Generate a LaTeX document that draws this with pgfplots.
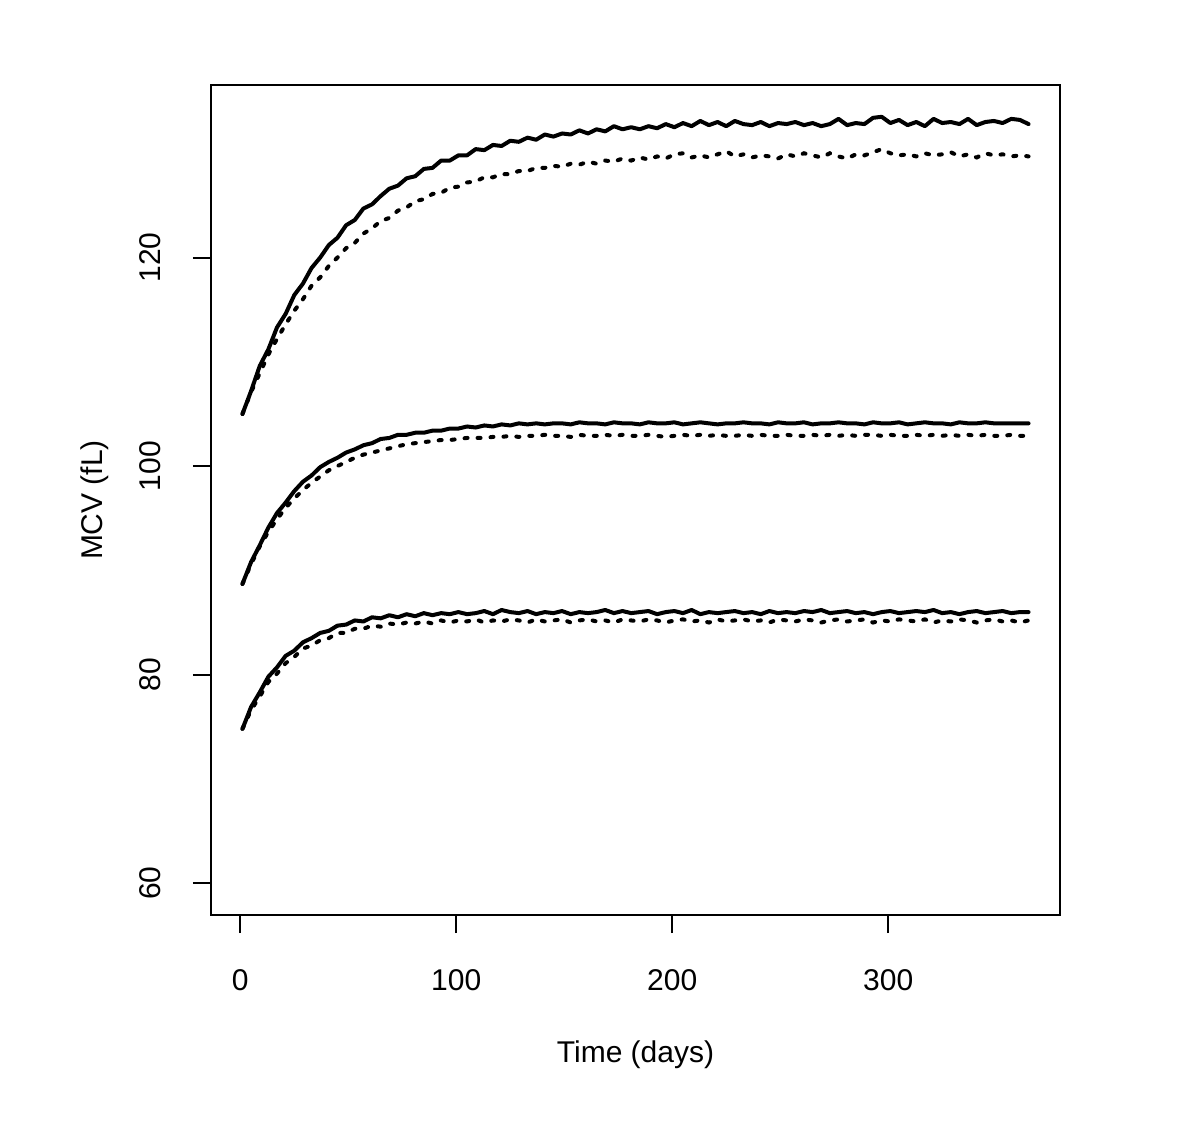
\documentclass[border=0pt]{standalone}
\usepackage{pgfplots}
\usepackage{pgfplotstable}
\pgfplotsset{compat=1.18}
\usepackage{fontspec}
\setmainfont{Liberation Sans}
\pgfplotstableread{
t ts td ms md bs bd
1 105.0 105.0 88.7 88.7 74.8 74.8
5 107.2 107.1 90.8 90.6 76.9 76.6
9 109.6 108.9 92.4 92.3 78.3 77.9
13 111.2 110.7 94.1 93.7 79.8 79.3
17 113.3 112.2 95.5 94.9 80.7 80.1
21 114.6 113.6 96.5 96.0 81.8 81.1
25 116.4 114.9 97.6 96.9 82.3 81.7
29 117.5 116.0 98.5 97.7 83.1 82.5
33 119.0 117.3 99.1 98.4 83.5 82.8
37 120.0 118.1 99.9 99.0 84.0 83.3
41 121.2 119.2 100.4 99.6 84.2 83.5
45 121.9 120.0 100.8 100.0 84.7 84.0
49 123.1 120.9 101.3 100.4 84.8 84.0
53 123.6 121.4 101.6 100.8 85.2 84.4
57 124.7 122.3 102.0 101.1 85.1 84.4
61 125.1 122.8 102.2 101.3 85.5 84.7
65 125.9 123.5 102.6 101.5 85.4 84.6
69 126.6 123.8 102.7 101.7 85.7 84.9
73 126.9 124.5 103.0 101.9 85.5 84.8
77 127.6 124.8 103.0 102.1 85.8 85.0
81 127.8 125.4 103.2 102.2 85.6 84.9
85 128.5 125.6 103.2 102.3 85.9 85.1
89 128.6 126.1 103.4 102.4 85.7 84.9
93 129.3 126.2 103.4 102.5 85.9 85.2
97 129.3 126.7 103.6 102.5 85.8 85.0
101 129.8 126.8 103.6 102.6 86.0 85.2
105 129.8 127.2 103.8 102.7 85.8 85.1
109 130.4 127.3 103.7 102.7 85.9 85.3
113 130.3 127.7 103.9 102.7 86.1 85.0
117 130.8 127.7 103.8 102.8 85.8 85.2
121 130.7 128.0 104.0 102.8 86.2 85.1
125 131.2 128.0 103.9 102.9 86.0 85.3
129 131.1 128.3 104.1 102.8 85.9 85.2
133 131.5 128.3 104.0 102.9 86.1 85.0
137 131.3 128.6 104.1 102.9 85.8 85.3
141 131.8 128.6 104.0 103.0 86.0 85.1
145 131.6 128.8 104.1 102.9 85.9 85.2
149 131.9 128.7 104.1 102.9 86.1 85.3
153 131.8 129.0 104.0 102.8 85.8 85.0
157 132.2 128.9 104.2 103.0 86.0 85.2
161 131.9 129.2 104.1 102.9 85.9 85.3
165 132.3 129.0 104.1 102.9 86.0 85.1
169 132.1 129.3 104.0 103.0 86.2 85.2
173 132.6 129.2 104.2 102.9 85.9 85.0
177 132.3 129.5 104.1 103.0 86.1 85.3
181 132.5 129.3 104.1 102.9 85.9 85.2
185 132.3 129.6 104.0 102.9 86.0 85.1
189 132.6 129.4 104.2 103.0 86.1 85.3
193 132.4 129.7 104.1 102.9 85.8 85.2
197 132.8 129.5 104.1 102.8 86.0 85.0
201 132.5 129.9 104.2 102.9 86.1 85.2
205 132.9 130.0 104.0 103.0 85.9 85.3
209 132.6 129.6 104.1 102.9 86.2 85.1
213 133.1 129.8 104.2 103.0 85.8 85.2
217 132.7 129.6 104.1 102.9 86.0 85.0
221 133.0 129.9 104.0 103.0 85.9 85.3
225 132.6 130.2 104.1 102.9 86.0 85.1
229 133.1 129.7 104.1 102.9 86.1 85.2
233 132.8 129.9 104.2 103.0 85.9 85.3
237 132.7 129.6 104.1 102.9 86.0 85.1
241 133.0 129.8 104.1 103.0 85.8 85.2
245 132.6 129.7 104.0 102.9 86.1 85.0
249 132.9 129.5 104.2 102.9 85.9 85.3
253 132.8 129.9 104.1 103.0 86.0 85.2
257 133.0 129.7 104.1 102.9 85.9 85.1
261 132.7 130.0 104.2 102.9 86.1 85.3
265 132.9 129.8 104.0 103.0 86.0 85.2
269 132.6 129.6 104.1 102.9 86.2 85.0
273 132.8 130.0 104.1 103.0 85.9 85.2
277 133.3 129.7 104.2 102.9 86.0 85.3
281 132.7 129.5 104.1 103.0 86.1 85.1
285 132.9 129.9 104.1 102.9 85.9 85.2
289 132.8 129.8 104.0 103.0 86.0 85.3
293 133.4 130.1 104.2 103.0 85.8 85.0
297 133.5 130.4 104.1 102.9 86.0 85.2
301 132.9 130.0 104.1 103.0 86.1 85.1
305 133.2 129.8 104.2 102.9 85.9 85.3
309 132.7 129.9 104.0 102.9 86.0 85.2
313 133.0 129.7 104.1 103.0 86.1 85.1
317 132.6 130.0 104.2 102.9 86.0 85.3
321 133.3 129.8 104.1 103.0 86.2 85.0
325 132.9 129.9 104.1 102.9 85.9 85.2
329 133.0 130.1 104.0 103.0 86.0 85.1
333 132.8 129.7 104.2 102.9 85.8 85.3
337 133.3 129.9 104.1 103.0 86.0 85.2
341 132.7 129.6 104.1 102.9 86.1 85.0
345 133.0 130.0 104.2 103.0 85.9 85.2
349 133.1 129.8 104.1 102.9 86.0 85.3
353 132.9 129.9 104.1 102.9 86.1 85.1
357 133.3 129.7 104.1 103.0 85.9 85.2
361 133.2 129.8 104.1 102.9 86.0 85.0
365 132.8 129.7 104.1 102.9 86.0 85.2
}\datatable
\begin{document}
\begin{tikzpicture}
\useasboundingbox (0,0) rectangle (600bp,562bp);
\begin{axis}[
  at={(105.5bp,104.5bp)}, anchor=south west,
  scale only axis, width=424.5bp, height=415bp,
  xmin=-13.56, xmax=379.56, ymin=56.95, ymax=136.55,
  axis line style={line width=1bp},
  xtick={0,100,200,300}, ytick={60,80,100,120},
  xtick pos=bottom, ytick pos=left,
  tick align=outside, major tick length=9bp,
  every tick/.style={line width=1bp, black},
  /pgf/number format/assume math mode=true,
  ticklabel style={font=\fontsize{15bp}{18bp}\selectfont},
  xticklabel style={anchor=center, yshift=-23.5bp},
  yticklabel style={xshift=-21.5bp, rotate=90, anchor=center},
  xlabel={Time (days)}, ylabel={MCV (fL)},
  label style={font=\fontsize{15bp}{18bp}\selectfont},
  xlabel style={at={(axis description cs:0.5,0)}, anchor=center, yshift=-70bp},
  ylabel style={at={(axis description cs:0,0.5)}, anchor=center, yshift=58bp},
  clip=false,
]
\addplot[black, line width=2bp, line join=round, line cap=round] table[x=t,y=ts] {\datatable};
\addplot[black, line width=2bp, line cap=round, dash pattern=on 1.5bp off 5bp] table[x=t,y=td] {\datatable};
\addplot[black, line width=2bp, line join=round, line cap=round] table[x=t,y=ms] {\datatable};
\addplot[black, line width=2bp, line cap=round, dash pattern=on 1.5bp off 5bp] table[x=t,y=md] {\datatable};
\addplot[black, line width=2bp, line join=round, line cap=round] table[x=t,y=bs] {\datatable};
\addplot[black, line width=2bp, line cap=round, dash pattern=on 1.5bp off 5bp] table[x=t,y=bd] {\datatable};
\end{axis}
\end{tikzpicture}
\end{document}
